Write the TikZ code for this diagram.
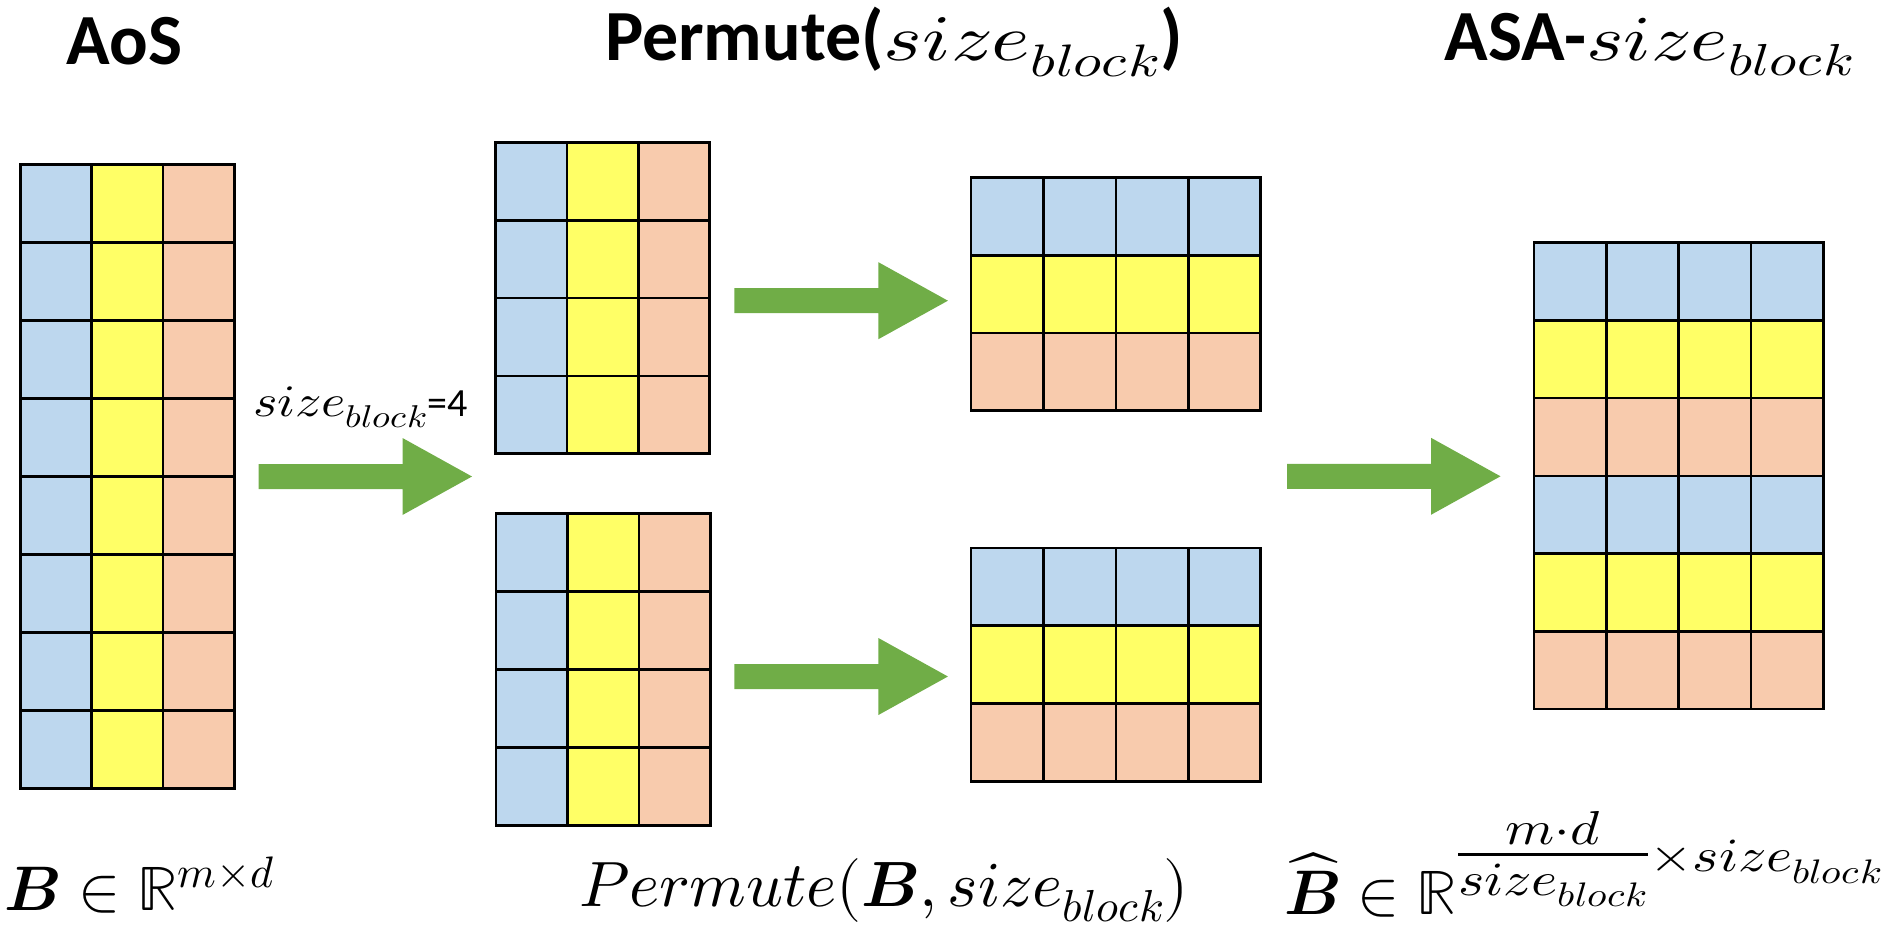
\documentclass[tikz,border=0pt]{standalone}
\usepackage{amsmath,graphicx}
\usepackage{fontspec}
\usepackage{unicode-math}
\setmainfont{Carlito}
\setmathfont{Latin Modern Math}
\definecolor{cblue}{HTML}{BDD7EE}
\definecolor{cyellow}{HTML}{FFFF66}
\definecolor{corange}{HTML}{F8CBAD}
\definecolor{cgreen}{HTML}{70AD47}
% #1 size (pt), #2 horizontal stretch, #3 formula
\newcommand\mtext[3]{\scalebox{#2}[1]{\fontsize{#1}{#1}\selectfont$#3$}}
\newcommand\drawgrid[8]{%
  \foreach \ci in {1,...,#4}{%
    \foreach \ri in {1,...,#5}{%
      \ifnum#8=0 \pgfmathtruncatemacro\m{mod(\ci-1,3)}\else\pgfmathtruncatemacro\m{mod(\ri-1,3)}\fi
      \ifcase\m \def\cc{cblue}\or\def\cc{cyellow}\else\def\cc{corange}\fi
      \draw[cellst,fill=\cc] ({#2+(\ci-1)*#6},{#3+(\ri-1)*#7}) rectangle ++(#6,#7);
    }%
  }%
  \node[gridframe, minimum width={#4*#6pt}, minimum height={#5*#7pt}, anchor=north west] (#1) at (#2,#3) {};%
}
\newcommand\bigarrow[2]{%
  \fill[cgreen] (#1,{#2-12.5}) -- ({#1+144},{#2-12.5}) -- ({#1+144},{#2-38.5}) -- ({#1+213.5},#2)
    -- ({#1+144},{#2+38.5}) -- ({#1+144},{#2+12.5}) -- (#1,{#2+12.5}) -- cycle;%
}
\begin{document}
\begin{tikzpicture}[x=1pt,y=-1pt,
  cellst/.style={draw=black,line width=2.6pt},
  gridframe/.style={draw=black,line width=2.8pt,inner sep=0pt,outer sep=0pt},
  txt/.style={inner sep=0pt,outer sep=0pt},
  head/.style={txt,font=\bfseries\fontsize{72}{80}\selectfont},
  lbl/.style={txt,anchor=base west}]
\useasboundingbox (0,0) rectangle (1883,929);
\drawgrid{aos}{20.1}{164.3}{3}{8}{71.4}{78}{0}
\drawgrid{pt}{495.5}{142.7}{3}{4}{71.4}{77.7}{0}
\drawgrid{pb}{496}{513.3}{3}{4}{71.4}{78}{0}
\drawgrid{mt}{971}{177.5}{4}{3}{72.4}{77.7}{1}
\drawgrid{mb}{971}{548}{4}{3}{72.4}{77.7}{1}
\drawgrid{asa}{1534}{242.7}{4}{6}{72.3}{77.7}{1}
\bigarrow{258.5}{476.5}
\bigarrow{734.4}{300.7}
\bigarrow{734.4}{676.5}
\bigarrow{1287}{476.3}
\node[head,anchor=base] (tAoS) at (124.5,64) {AoS};
\node[head,anchor=base west] (tPerm) at (605,60) {Permute(\mtext{65}{1.27}{size_{block}})};
\node[head,anchor=base west] (tASA) at (1444.5,60) {ASA-\mtext{64}{1.25}{size_{block}}};
\node[lbl] (lblSize) at (253,416) {\mtext{45}{1.16}{size_{block}}{\fontsize{40}{44}\selectfont=4}};
\node[lbl] (lblB) at (5,910) {\mtext{63}{1}{\symbfit{B}\in\mathbb{R}^{m\times d}}};
\node[lbl] (lblP) at (579,906) {\mtext{64}{1.01}{Permute(\symbfit{B},size_{block})}};
\node[lbl] (lblBh) at (1284,914) {\mtext{63}{1}{\widehat{\symbfit{B}}\in\mathbb{R}^{\scalebox{1.27}[1.08]{$\scriptstyle\genfrac{}{}{}{1}{m\cdot d}{size_{block}}\times size_{block}$}}}};
\end{tikzpicture}
\end{document}
